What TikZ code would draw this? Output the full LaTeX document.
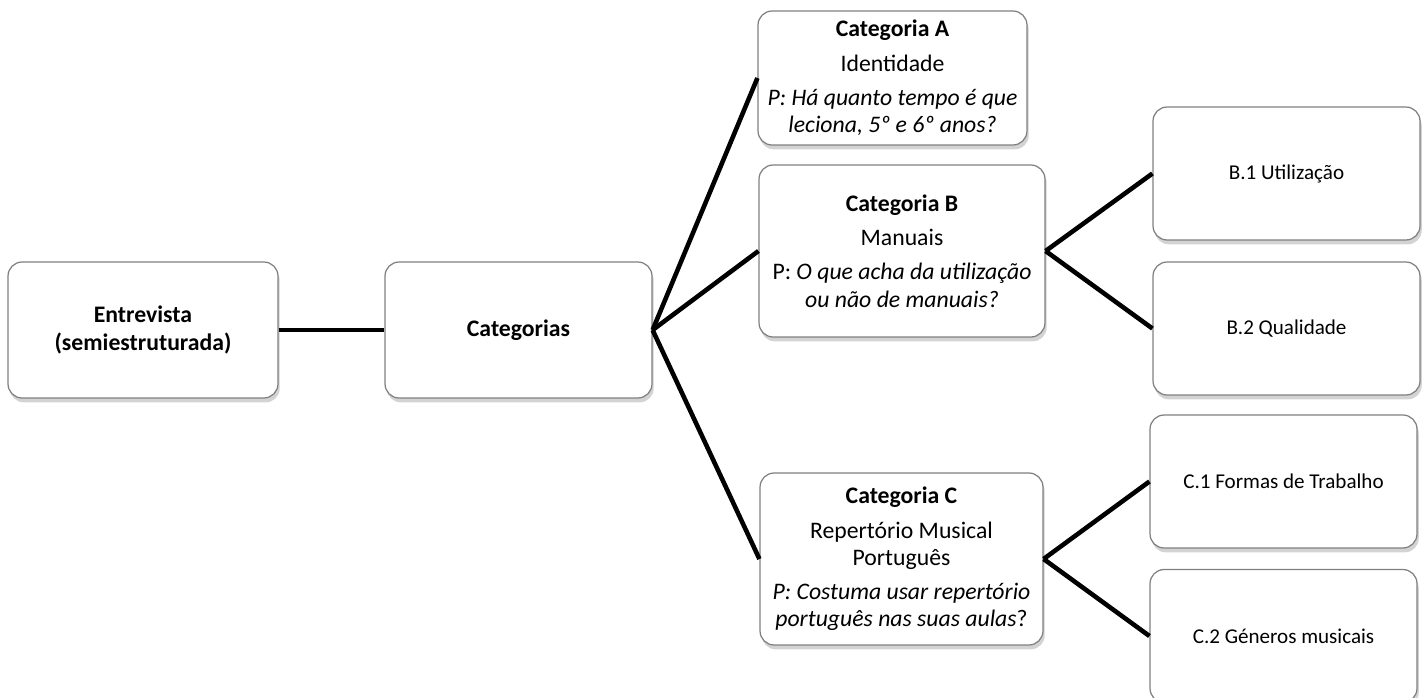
\documentclass[tikz,border=0pt]{standalone}
\usepackage{fontspec}
\setmainfont{Carlito}
\usetikzlibrary{shadows}

\begin{document}
\begin{tikzpicture}[x=0.02cm,y=-0.02cm]

% picture size (pixels):
\pgfmathsetmacro\pwidth{1426};
\pgfmathsetmacro\pheight{697};

\useasboundingbox (0,0) rectangle (\pwidth,\pheight);

\tikzset{
  box/.style={draw=black!50, line width=0.7pt, rounded corners=8pt, fill=white,
    align=center, inner sep=0pt, font=\fontsize{13.5}{15.5}\selectfont,
    drop shadow={shadow xshift=1pt, shadow yshift=-2.5pt, opacity=0.35}},
  subbox/.style={box, minimum width=5.34cm, minimum height=2.66cm,
    font=\fontsize{12}{14}\selectfont},
  link/.style={line width=2.6pt},
}

% left part:
\node[box, minimum width=5.4cm, minimum height=2.72cm] (entr) at (143,330)
  {\textbf{Entrevista}\\\textbf{(semiestruturada)}};
\node[box, minimum width=5.34cm, minimum height=2.72cm] (cats) at (518.5,330)
  {\textbf{Categorias}};

% categories:
\node[box, minimum width=5.38cm, minimum height=2.68cm] (catA) at (892.5,78)
  {\textbf{Categoria A}\\[4pt]Identidade\\[4pt]
   \textit{P: Há quanto tempo é que}\\\textit{leciona, 5º e 6º anos?}};
\node[box, minimum width=5.72cm, minimum height=3.44cm] (catB) at (902,251)
  {\textbf{Categoria B}\\[4pt]Manuais\\[4pt]
   P: \textit{O que acha da utilização}\\\textit{ou não de manuais?}};
\node[box, minimum width=5.66cm, minimum height=3.44cm] (catC) at (901.5,559)
  {\textbf{Categoria C}\\[4pt]Repertório Musical\\Português\\[4pt]
   \textit{P: Costuma usar repertório}\\\textit{português nas suas aulas}?};

% subcategories:
\node[subbox] (b1) at (1286.5,173.5) {B.1 Utilização};
\node[subbox] (b2) at (1286.5,328.5) {B.2 Qualidade};
\node[subbox] (c1) at (1283.5,481.5) {C.1 Formas de Trabalho};
\node[subbox] (c2) at (1283.5,636) {C.2 Géneros musicais};

% connectors:
\draw[link] (entr.east) -- (cats.west);
\foreach \cat in {catA,catB,catC}{
  \draw[link] (cats.east) -- (\cat.west);
}
\foreach \sub in {b1,b2}{
  \draw[link] (catB.east) -- (\sub.west);
}
\foreach \sub in {c1,c2}{
  \draw[link] (catC.east) -- (\sub.west);
}

\end{tikzpicture}
\end{document}
